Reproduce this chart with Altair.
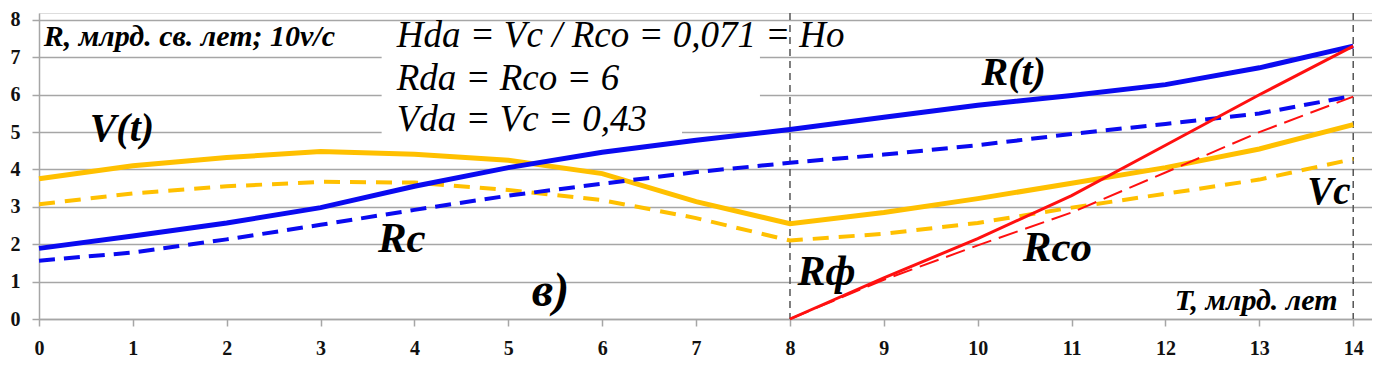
import altair as alt
import pandas as pd

# ---- data ----
T_FULL = list(range(15))
R_T = [1.89, 2.22, 2.57, 2.98, 3.55, 4.05, 4.46, 4.78, 5.07, 5.40, 5.72, 5.98, 6.27, 6.72, 7.30]
R_C = [1.56, 1.78, 2.13, 2.52, 2.92, 3.30, 3.62, 3.93, 4.18, 4.40, 4.65, 4.95, 5.22, 5.50, 5.97]
V_T = [3.75, 4.10, 4.32, 4.48, 4.41, 4.25, 3.89, 3.14, 2.55, 2.85, 3.22, 3.63, 4.05, 4.55, 5.20]
V_C = [3.07, 3.36, 3.55, 3.67, 3.65, 3.45, 3.18, 2.70, 2.10, 2.28, 2.57, 2.98, 3.35, 3.73, 4.28]

T_LATE = [8, 9, 10, 11, 12, 13, 14]
R_F = [0.0, 1.10, 2.15, 3.30, 4.65, 6.00, 7.30]
R_CO = [0.0, 1.05, 1.97, 2.85, 3.92, 5.00, 5.95]

X_TICKS = list(range(15))
Y_TICKS = list(range(9))
MARKER_T = [8, 14]

# annotation texts
BOLD_TEXTS = ["R, млрд. св. лет; 10v/c", "V(t)", "R(t)", "Rc", "Rф", "Rco", "Vc", "в)", "T, млрд. лет"]
BOLD_X = [0.05, 0.54, 10.04, 3.61, 8.08, 10.48, 13.51, 5.25, 12.10]
BOLD_Y = [7.30, 4.75, 6.25, 1.79, 0.90, 1.56, 3.09, 0.34, 0.24]
BOLD_SIZE = [30, 40, 40, 43, 42, 43, 39, 48, 30]

FORMULA_TEXTS = ["Hda = Vc / Rco = 0,071 = Ho", "Rda = Rco = 6", "Vda = Vc = 0,43"]
FORMULA_X = [3.81, 3.81, 3.81]
FORMULA_Y = [7.27, 6.12, 5.02]
FORMULA_SIZE = [37, 37, 37]

# white backgrounds of the formula text boxes
BOX_X1 = [3.65, 3.65]
BOX_X2 = [7.68, 6.85]
BOX_Y1 = [5.6, 4.85]
BOX_Y2 = [7.15, 5.6]

FONT = "Liberation Serif"
BLUE = "#0A0AF0"
ORANGE = "#FFC000"
RED = "#FF1010"
GRID = "#A6A6A6"

full = pd.DataFrame({"t": T_FULL, "R_T": R_T, "R_C": R_C, "V_T": V_T, "V_C": V_C})
late = pd.DataFrame({"t": T_LATE, "R_F": R_F, "R_CO": R_CO})
marks = pd.DataFrame({"t": MARKER_T})
bold = pd.DataFrame({"txt": BOLD_TEXTS, "t": BOLD_X, "v": BOLD_Y, "size": BOLD_SIZE})
formula = pd.DataFrame({"txt": FORMULA_TEXTS, "t": FORMULA_X, "v": FORMULA_Y, "size": FORMULA_SIZE})
boxes = pd.DataFrame({"t": BOX_X1, "t2": BOX_X2, "v": BOX_Y1, "v2": BOX_Y2})

x_axis = alt.Axis(values=X_TICKS, title=None, grid=False, format="d",
                  domainColor=GRID, domainWidth=1.5, tickColor=GRID, tickWidth=1.5, tickSize=7,
                  labelFont=FONT, labelFontWeight="bold", labelFontSize=20, labelColor="#111111",
                  labelPadding=12, labelFlush=False)
y_axis = alt.Axis(values=Y_TICKS, title=None, grid=True, gridColor=GRID, gridWidth=1.5, format="d",
                  domainColor=GRID, domainWidth=1.5, tickColor=GRID, tickWidth=1.5, tickSize=7,
                  labelFont=FONT, labelFontWeight="bold", labelFontSize=20, labelColor="#111111",
                  labelPadding=12)
xs = alt.Scale(domain=[0, 14.2], nice=False, zero=False)
ys = alt.Scale(domain=[0, 8.187], nice=False, zero=False)


def X(field="t"):
    return alt.X(f"{field}:Q", scale=xs, axis=x_axis)


def Y(field):
    return alt.Y(f"{field}:Q", scale=ys, axis=y_axis)


box_layer = alt.Chart(boxes).mark_rect(color="white").encode(
    x=X(), x2="t2:Q", y=Y("v"), y2="v2:Q")

rules = alt.Chart(marks).mark_rule(color="#555555", strokeDash=[7, 5], strokeWidth=1.5).encode(x=X())

v_c = alt.Chart(full).mark_line(color=ORANGE, strokeWidth=4, strokeDash=[16, 10]).encode(x=X(), y=Y("V_C"))
v_t = alt.Chart(full).mark_line(color=ORANGE, strokeWidth=5).encode(x=X(), y=Y("V_T"))
r_c = alt.Chart(full).mark_line(color=BLUE, strokeWidth=4, strokeDash=[16, 9]).encode(x=X(), y=Y("R_C"))
r_t = alt.Chart(full).mark_line(color=BLUE, strokeWidth=5).encode(x=X(), y=Y("R_T"))
r_co = alt.Chart(late).mark_line(color=RED, strokeWidth=2, strokeDash=[20, 8]).encode(x=X(), y=Y("R_CO"))
r_f = alt.Chart(late).mark_line(color=RED, strokeWidth=3).encode(x=X(), y=Y("R_F"))

bold_text = alt.Chart(bold).mark_text(font=FONT, fontWeight="bold", fontStyle="italic", align="left",
                                      baseline="alphabetic", color="#000000").encode(
    x=X(), y=Y("v"), text="txt:N", size=alt.Size("size:Q", scale=None))
formula_text = alt.Chart(formula).mark_text(font=FONT, fontStyle="italic", align="left",
                                            baseline="alphabetic", color="#000000").encode(
    x=X(), y=Y("v"), text="txt:N", size=alt.Size("size:Q", scale=None))

chart = alt.layer(box_layer, rules, v_c, v_t, r_c, r_t, r_co, r_f, bold_text, formula_text).properties(
    width=1333, height=306,
    autosize=alt.AutoSizeParams(type="none"),
    padding={"left": 31, "top": 5, "right": 0, "bottom": 39},
).configure_view(stroke=None).configure(background="white")

chart.save("out.html", embed_options={"renderer": "svg", "actions": False})
